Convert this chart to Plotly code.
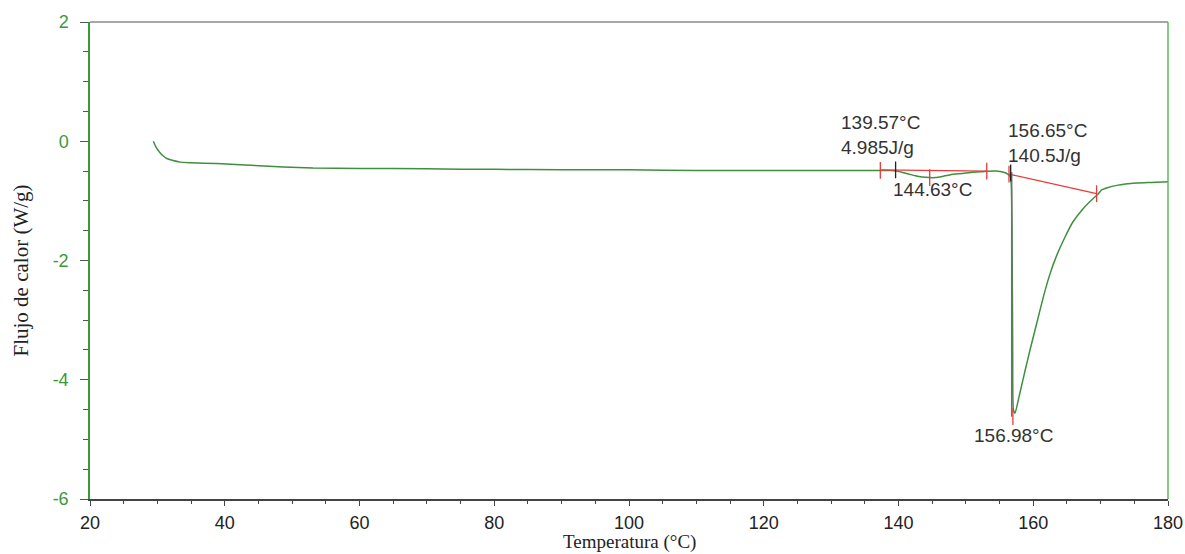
import plotly.graph_objects as go

# DSC curve
temperature = [29.4, 29.8, 30.3, 30.8, 31.4, 32.2, 33.4, 35.0, 38.8, 43.0, 48.7, 53.1,
               60, 70, 75, 80, 90, 100, 110, 120, 130, 135, 137, 138, 139, 139.6,
               140.5, 141.5, 142.5, 143.5, 144.6, 145.5, 146.5, 147.7, 149.5, 151, 152.5,
               153.1, 154.5, 155.6, 156.2, 156.6, 156.75, 156.85, 156.95, 157.05, 157.3,
               158.0, 158.8, 159.5, 160.5, 161.5, 162.5, 163.5, 164.7, 165.9, 167.4,
               168.9, 169.6, 170.1, 171.0, 172.4, 175.3, 177.5, 180]
heat_flow = [0.0, -0.10, -0.18, -0.24, -0.29, -0.32, -0.35, -0.36, -0.375, -0.40, -0.43, -0.45,
             -0.455, -0.46, -0.47, -0.47, -0.48, -0.48, -0.49, -0.49, -0.49, -0.49, -0.49, -0.49, -0.49, -0.50,
             -0.52, -0.55, -0.58, -0.60, -0.61, -0.61, -0.59, -0.56, -0.54, -0.52, -0.51,
             -0.505, -0.50, -0.52, -0.55, -0.60, -0.75, -1.5, -3.5, -4.5, -4.56,
             -4.23, -3.84, -3.51, -3.06, -2.61, -2.22, -1.91, -1.61, -1.35, -1.13,
             -0.96, -0.89, -0.82, -0.78, -0.74, -0.70, -0.69, -0.68]

# integration baselines
base1_x = [137.3, 153.1]
base1_y = [-0.48, -0.50]
base2_x = [156.4, 169.4]
base2_y = [-0.55, -0.88]

# peak marker line
peak_line_x = [156.8, 156.8]
peak_line_y = [-0.52, -4.62]

red_tick_x = [137.3, 144.63, 153.1, 156.4, 169.4, 156.98]
red_tick_y = [-0.49, -0.61, -0.50, -0.55, -0.88, -4.62]
black_tick_x = [139.57, 156.65]
black_tick_y = [-0.48, -0.53]

labels_text = ["139.57°C<br>4.985J/g", "144.63°C", "156.65°C<br>140.5J/g", "156.98°C"]
labels_x = [137.3, 145.0, 162.1, 157.0]
labels_y = [0.10, -0.81, -0.03, -4.93]

x_ticks = [20, 40, 60, 80, 100, 120, 140, 160, 180]
y_ticks = [2, 0, -2, -4, -6]
y_tick_text = ["2", "0", "-2", "-4", "-6"]

green = "#3f8f3f"
axis_green = "#3a9a3a"
red = "#e83a3a"

fig = go.Figure()
fig.add_trace(go.Scatter(x=temperature, y=heat_flow, mode="lines",
                         line=dict(color=green, width=1.5, shape="spline", smoothing=0.5),
                         hoverinfo="skip"))
fig.add_trace(go.Scatter(x=base1_x, y=base1_y, mode="lines", line=dict(color=red, width=1.3)))
fig.add_trace(go.Scatter(x=base2_x, y=base2_y, mode="lines", line=dict(color=red, width=1.3)))
fig.add_trace(go.Scatter(x=peak_line_x, y=peak_line_y, mode="lines",
                         line=dict(color="#707070", width=1.5)))
fig.add_trace(go.Scatter(x=red_tick_x, y=red_tick_y, mode="markers",
                         marker=dict(symbol="line-ns", size=12, color=red,
                                     line=dict(color=red, width=1.3))))
fig.add_trace(go.Scatter(x=black_tick_x, y=black_tick_y, mode="markers",
                         marker=dict(symbol="line-ns", size=12, color="#222",
                                     line=dict(color="#222", width=1.3))))

for t, x, y in zip(labels_text, labels_x, labels_y):
    fig.add_annotation(x=x, y=y, text=t, showarrow=False, xanchor="center", yanchor="middle",
                       align="left", font=dict(family="Liberation Sans, Arial", size=19, color="#333"))

# axis titles
fig.add_annotation(xref="paper", yref="paper", x=0.5, y=0, yshift=-43, text="Temperatura (°C)",
                   showarrow=False, xanchor="center", yanchor="middle",
                   font=dict(family="Liberation Serif, Times New Roman", size=19, color="#222"))
fig.add_annotation(xref="paper", yref="paper", x=0, xshift=-70, y=0.5, yshift=-10,
                   text="Flujo de calor (W/g)", textangle=-90,
                   showarrow=False, xanchor="center", yanchor="middle",
                   font=dict(family="Liberation Serif, Times New Roman", size=21, color="#222"))

# frame: grey top, light green right
fig.add_shape(type="line", xref="paper", yref="paper", x0=0, x1=1, y0=1, y1=1,
              line=dict(color="#8a8a8a", width=1.5))
fig.add_shape(type="line", xref="paper", yref="paper", x0=1, x1=1, y0=0, y1=1,
              line=dict(color="#5cb85c", width=1.5))

fig.update_layout(
    width=1185, height=554,
    margin=dict(l=90, r=17, t=22, b=55, autoexpand=False),
    paper_bgcolor="white", plot_bgcolor="white",
    showlegend=False,
    font=dict(family="Liberation Sans, Arial", size=16, color="#222"),
)
fig.update_xaxes(
    range=[20, 180], tickvals=x_ticks, ticks="outside", ticklen=5, tickcolor="#444",
    showline=True, linecolor="#444", linewidth=1.5, showgrid=False, zeroline=False,
    automargin=False, ticklabelstandoff=2,
    tickfont=dict(family="Liberation Sans, Arial", size=18, color="#222"),
    minor=dict(dtick=5, ticks="outside", ticklen=3, tickcolor="#444", showgrid=False),
)
fig.update_yaxes(
    range=[-6, 2], tickvals=y_ticks, ticktext=y_tick_text, ticks="outside", ticklen=8,
    tickcolor="#555", showline=True, linecolor=axis_green, linewidth=1.5,
    showgrid=False, zeroline=False, automargin=False, ticklabelstandoff=8,
    tickfont=dict(family="Liberation Sans, Arial", size=18, color=axis_green),
    minor=dict(dtick=0.5, ticks="outside", ticklen=5, tickcolor="#555", showgrid=False),
)

fig.write_html("out.html")
